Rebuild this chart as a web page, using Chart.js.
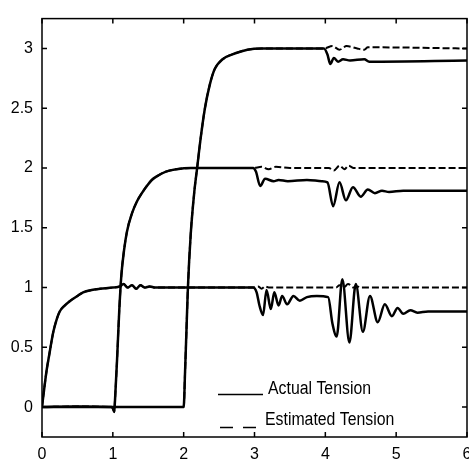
<!DOCTYPE html>
<html lang="en">
<head>
    <meta charset="UTF-8">
    <title>Actual vs Estimated Tension</title>
    <script src="https://cdn.jsdelivr.net/npm/chart.js"></script>
    <style>
        body {
            margin: 0;
            background: #ffffff;
            overflow: hidden;
        }
        #tensionChart {
            position: absolute;
            left: 0;
            top: 0;
        }
    </style>
</head>
<body>
    <canvas id="tensionChart" width="480" height="464"></canvas>

    <script>
        // Axis ticks
        const xTicks = [0, 1, 2, 3, 4, 5, 6];
        const yTicks = [0, 0.5, 1, 1.5, 2, 2.5, 3];

        // Step 1 (starts at t = 0)
        const rise1T = [0, 0.02, 0.066, 0.1, 0.16, 0.2, 0.25, 0.32, 0.4, 0.5, 0.58, 0.7, 0.82, 1.0, 1.1, 1.15, 1.21, 1.27, 1.33, 1.39, 1.45, 1.52, 1.6, 2.0, 2.98];
        const rise1V = [0, 0.1, 0.31, 0.43, 0.63, 0.72, 0.8, 0.85, 0.89, 0.93, 0.96, 0.98, 0.99, 1.0, 1.01, 1.03, 1.0, 1.02, 0.99, 1.02, 1.0, 1.01, 1.0, 1.0, 1.0];
        const act1T = [3.03, 3.07, 3.12, 3.17, 3.23, 3.28, 3.34, 3.39, 3.46, 3.55, 3.64, 3.74, 3.88, 4.04, 4.1, 4.16, 4.24, 4.34, 4.43, 4.53, 4.63, 4.74, 4.84, 4.94, 5.02, 5.1, 5.2, 5.3, 5.45, 6.0];
        const act1V = [0.96, 0.85, 0.77, 0.98, 0.82, 0.96, 0.85, 0.93, 0.86, 0.93, 0.89, 0.92, 0.93, 0.92, 0.7, 0.59, 1.07, 0.54, 1.03, 0.63, 0.93, 0.71, 0.86, 0.76, 0.83, 0.78, 0.81, 0.79, 0.8, 0.8];
        const est1T = [3.05, 3.1, 3.15, 3.2, 4.15, 4.2, 4.26, 4.32, 4.4, 4.45, 4.5, 6.0];
        const est1V = [1.01, 0.99, 1.01, 1.0, 1.0, 1.02, 1.0, 1.03, 1.0, 1.01, 1.0, 1.0];

        // Step 2 (starts at t = 1)
        const rise2T = [0, 0.5, 0.98, 1.0, 1.02, 1.03, 1.06, 1.09, 1.12, 1.16, 1.2, 1.27, 1.34, 1.41, 1.48, 1.55, 1.62, 1.75, 1.9, 2.1, 2.98];
        const rise2V = [0, 0.005, 0, -0.01, -0.04, 0.05, 0.4, 0.8, 1.1, 1.32, 1.47, 1.62, 1.72, 1.79, 1.85, 1.9, 1.93, 1.97, 1.99, 2.0, 2.0];
        const act2T = [3.02, 3.08, 3.15, 3.27, 3.34, 3.47, 3.74, 3.95, 4.03, 4.11, 4.2, 4.29, 4.39, 4.5, 4.6, 4.7, 4.8, 4.9, 5.1, 6.0];
        const act2V = [1.97, 1.85, 1.91, 1.89, 1.9, 1.89, 1.9, 1.89, 1.88, 1.68, 1.88, 1.73, 1.84, 1.76, 1.82, 1.79, 1.81, 1.8, 1.81, 1.81];
        const est2T = [3.1, 3.2, 3.3, 3.5, 4.05, 4.12, 4.2, 4.27, 4.33, 4.4, 6.0];
        const est2V = [2.01, 1.99, 2.01, 2.0, 2.0, 1.98, 2.02, 1.99, 2.02, 2.0, 2.0];

        // Step 3 (starts at t = 2)
        const rise3T = [0, 1.0, 1.5, 2.0, 2.02, 2.04, 2.06, 2.1, 2.15, 2.19, 2.24, 2.3, 2.37, 2.44, 2.55, 2.73, 2.9, 3.1, 3.98];
        const rise3V = [0, 0, 0, 0, 0.3, 0.65, 1.0, 1.45, 1.8, 2.0, 2.25, 2.5, 2.7, 2.83, 2.91, 2.96, 2.99, 3.0, 3.0];
        const act3T = [4.03, 4.07, 4.12, 4.18, 4.25, 4.35, 4.55, 4.62, 6.0];
        const act3V = [2.95, 2.87, 2.92, 2.89, 2.91, 2.9, 2.91, 2.89, 2.9];
        const est3T = [4.1, 4.2, 4.3, 4.45, 4.55, 4.6, 6.0];
        const est3V = [3.02, 2.99, 3.02, 3.0, 2.99, 3.01, 3.0];

        function toPoints(ts, vs) {
            return ts.map((t, i) => ({ x: t, y: vs[i] }));
        }

        function series(riseT, riseV, tailT, tailV, dashed) {
            return {
                data: toPoints(riseT.concat(tailT), riseV.concat(tailV)),
                borderColor: '#000000',
                borderWidth: dashed ? 2 : 2.5,
                borderDash: dashed ? [7, 3] : [],
                pointRadius: 0,
                fill: false,
                cubicInterpolationMode: 'monotone'
            };
        }

        // narrow-looking text: squeeze a regular sans horizontally
        function narrowText(ctx, text, x, y) {
            ctx.save();
            ctx.translate(x, y);
            ctx.scale(0.88, 1);
            ctx.fillText(text, 0, 0);
            ctx.restore();
        }

        // box, inward ticks and the in-plot legend
        const frame = {
            id: 'frame',
            afterDraw(chart) {
                const ctx = chart.ctx;
                const a = chart.chartArea;
                const xs = chart.scales.x;
                const ys = chart.scales.y;
                ctx.save();
                ctx.strokeStyle = '#000000';
                ctx.lineWidth = 1.5;
                ctx.strokeRect(a.left, a.top, a.right - a.left, a.bottom - a.top);
                ctx.beginPath();
                xTicks.forEach(v => {
                    const px = xs.getPixelForValue(v);
                    ctx.moveTo(px, a.bottom); ctx.lineTo(px, a.bottom - 5);
                    ctx.moveTo(px, a.top); ctx.lineTo(px, a.top + 5);
                });
                yTicks.forEach(v => {
                    const py = ys.getPixelForValue(v);
                    ctx.moveTo(a.left, py); ctx.lineTo(a.left + 5, py);
                    ctx.moveTo(a.right, py); ctx.lineTo(a.right - 5, py);
                });
                ctx.stroke();

                // legend
                const lx = a.left + 176;
                const ly1 = a.top + 376;
                const ly2 = a.top + 409;
                ctx.lineWidth = 1.5;
                ctx.beginPath();
                ctx.moveTo(lx, ly1); ctx.lineTo(lx + 45, ly1);
                ctx.stroke();
                ctx.setLineDash([13, 10]);
                ctx.beginPath();
                ctx.moveTo(lx + 2, ly2); ctx.lineTo(lx + 42, ly2);
                ctx.stroke();
                ctx.setLineDash([]);
                ctx.fillStyle = '#000000';
                ctx.font = '18px "Liberation Sans", Arial, sans-serif';
                ctx.textBaseline = 'alphabetic';
                narrowText(ctx, 'Actual Tension', lx + 50, ly1 - 1);
                narrowText(ctx, 'Estimated Tension', lx + 47, ly2 - 3);
                ctx.restore();
            }
        };

        function createChart() {
            const ctx = document.getElementById('tensionChart').getContext('2d');
            new Chart(ctx, {
                type: 'line',
                data: {
                    datasets: [
                        series(rise1T, rise1V, est1T, est1V, true),
                        series(rise2T, rise2V, est2T, est2V, true),
                        series(rise3T, rise3V, est3T, est3V, true),
                        series(rise1T, rise1V, act1T, act1V, false),
                        series(rise2T, rise2V, act2T, act2V, false),
                        series(rise3T, rise3V, act3T, act3V, false)
                    ]
                },
                options: {
                    responsive: false,
                    animation: false,
                    layout: {
                        padding: { top: 9, right: 13, left: 0, bottom: 0 }
                    },
                    plugins: {
                        legend: { display: false },
                        tooltip: { enabled: false }
                    },
                    scales: {
                        x: {
                            type: 'linear',
                            min: 0,
                            max: 6,
                            afterBuildTicks: s => { s.ticks = xTicks.map(v => ({ value: v })); },
                            afterFit: s => { s.height = 27; },
                            grid: { display: false, drawTicks: false },
                            border: { display: false },
                            ticks: {
                                color: '#000000',
                                padding: 8,
                                maxRotation: 0,
                                font: { family: '"Liberation Sans", Arial, sans-serif', size: 16 },
                                callback: v => String(v)
                            }
                        },
                        y: {
                            type: 'linear',
                            min: -0.25,
                            max: 3.25,
                            afterBuildTicks: s => { s.ticks = yTicks.map(v => ({ value: v })); },
                            afterFit: s => { s.width = 42; },
                            grid: { display: false, drawTicks: false },
                            border: { display: false },
                            ticks: {
                                color: '#000000',
                                padding: 9,
                                font: { family: '"Liberation Sans", Arial, sans-serif', size: 16 },
                                callback: v => String(v)
                            }
                        }
                    }
                },
                plugins: [frame]
            });
        }

        window.addEventListener('load', createChart);
    </script>
</body>
</html>
